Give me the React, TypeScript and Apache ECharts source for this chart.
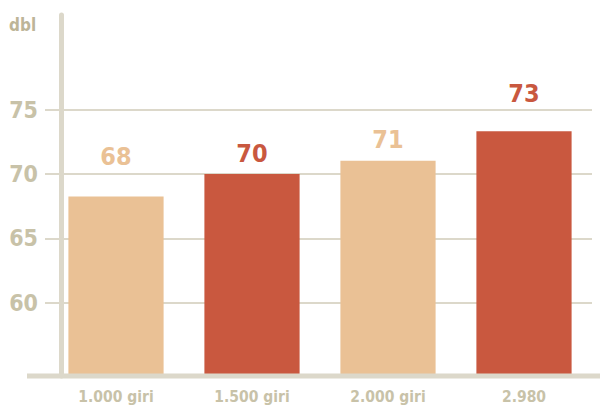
import React, { useEffect, useRef } from 'react';
import * as echarts from 'echarts';

const categories = ['1.000 giri', '1.500 giri', '2.000 giri', '2.980'];
const noiseDb = [68.24, 70.0, 71.03, 73.31];
const barColors = ['#eac195', '#c9583f', '#eac195', '#c9583f'];
const yTickValues = [60, 65, 70, 75];
const labelGaps = [28, 8, 9, 25];
const unitLabel = 'dbl';

const FONT = "'Liberation Sans Narrow', 'DejaVu Sans Condensed', 'Arial Narrow', sans-serif";
const AXIS_COLOR = '#dcd8ca';
const TEXT_COLOR = '#c8c2a8';

export default function App() {
  const ref = useRef<HTMLDivElement>(null);
  useEffect(() => {
    document.body.style.margin = '0';
    if (!ref.current) return;
    const chart = echarts.init(ref.current, undefined, { renderer: 'svg' });
    chart.setOption({
      animation: false,
      backgroundColor: '#ffffff',
      title: {
        text: unitLabel,
        left: 9,
        top: 16,
        padding: 0,
        textStyle: { fontFamily: FONT, fontWeight: 'bold', fontSize: 17, color: '#bdb598' },
      },
      grid: { left: 48, right: 8, top: 15, bottom: 31, containLabel: false },
      graphic: [
        {
          type: 'line',
          z: 100,
          shape: { x1: 27, y1: 376, x2: 600, y2: 376 },
          style: { stroke: AXIS_COLOR, lineWidth: 5 },
        },
      ],
      xAxis: {
        type: 'category',
        data: categories,
        axisLine: { show: false },
        axisTick: { show: false },
        axisLabel: {
          margin: 13,
          fontFamily: FONT,
          fontWeight: 'bold',
          fontSize: 15.5,
          color: TEXT_COLOR,
        },
      },
      yAxis: {
        type: 'value',
        min: 54.31,
        max: 82.34,
        offset: -13,
        axisLine: { show: true, lineStyle: { color: AXIS_COLOR, width: 5 } },
        axisTick: { show: true, customValues: yTickValues, length: 16, lineStyle: { color: AXIS_COLOR, width: 2 } },
        splitLine: { show: true, lineStyle: { color: AXIS_COLOR, width: 2 } },
        axisLabel: {
          customValues: yTickValues,
          margin: 23,
          padding: [0, 0, 6, 0],
          fontFamily: FONT,
          fontWeight: 'bold',
          fontSize: 23,
          color: TEXT_COLOR,
        },
      },
      series: [
        {
          type: 'bar',
          barWidth: '70%',
          data: noiseDb.map((v, i) => ({
            value: v,
            itemStyle: { color: barColors[i] },
            label: { color: barColors[i], distance: labelGaps[i] },
          })),
          label: {
            show: true,
            position: 'top',
            fontFamily: FONT,
            fontWeight: 'bold',
            fontSize: 25,
            formatter: (p: any) => String(Math.round(p.value)),
          },
        },
      ],
    });
    return () => chart.dispose();
  }, []);
  return <div ref={ref} style={{ width: 600, height: 407 }} />;
}
